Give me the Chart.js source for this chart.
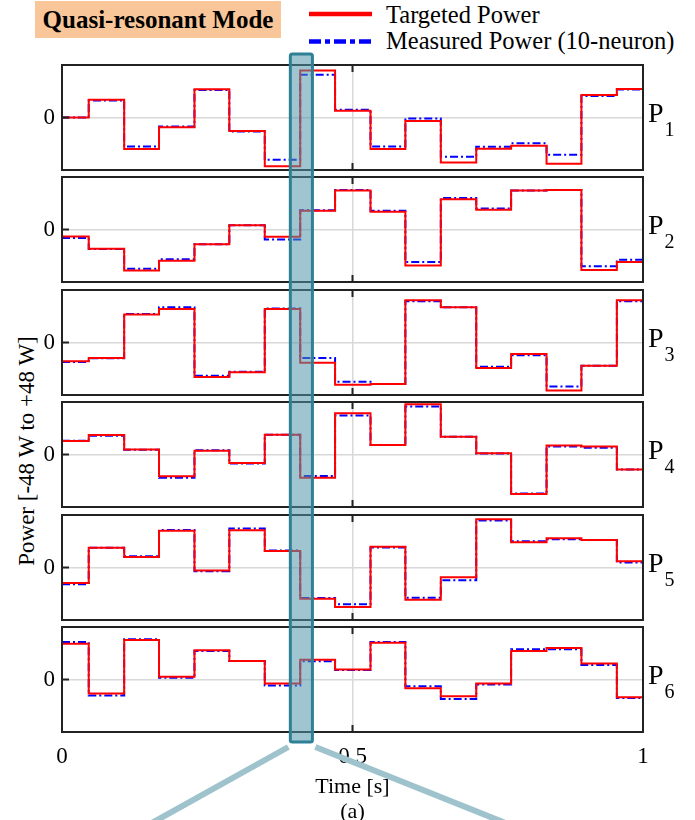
<!DOCTYPE html>
<html>
<head>
<meta charset="utf-8">
<script src="https://cdn.jsdelivr.net/npm/chart.js@4.4.0/dist/chart.umd.min.js"></script>
<style>
  body { margin: 0; width: 695px; height: 820px; position: relative; background: #fff; overflow: hidden;
         font-family: "Liberation Serif", "Times New Roman", serif; color: #000; }
  .panel { position: absolute; left: 0; }
  #overlay { position: absolute; left: 0; top: 0; pointer-events: none; z-index: 5; }
  #mode { position: absolute; left: 35px; top: 1px; width: 246px; height: 37px; background: #f8c698;
          font-family: "Liberation Serif", serif; font-weight: 700; font-size: 25px; line-height: 37px;
          text-align: center; }
  .legend-text { position: absolute; left: 386px; font-size: 24.5px; line-height: 26px; white-space: nowrap; }
  #ylabel { position: absolute; left: 27px; top: 451px; font-size: 23px; white-space: nowrap;
            transform: translate(-50%, -50%) rotate(-90deg); }
</style>
</head>
<body>
<div id="mode">Quasi-resonant Mode</div>
<div class="legend-text" style="top:2px">Targeted Power</div>
<div class="legend-text" style="top:28px">Measured Power (10-neuron)</div>
<div id="ylabel">Power [-48 W to +48 W]</div>

<canvas class="panel" id="p1"></canvas>
<canvas class="panel" id="p2"></canvas>
<canvas class="panel" id="p3"></canvas>
<canvas class="panel" id="p4"></canvas>
<canvas class="panel" id="p5"></canvas>
<canvas class="panel" id="p6"></canvas>
<canvas id="overlay" width="695" height="820"></canvas>

<script>
// start time of each power step [s]; the last entry closes the final step
const stepTimes = [0, 0.046, 0.107, 0.167, 0.228, 0.288, 0.349, 0.410, 0.470,
                   0.531, 0.591, 0.652, 0.713, 0.773, 0.834, 0.894, 0.955, 1.0];

// power per step [W]
const targetP1   = [0, 16.3, -28.8, -8.9, 25.8, -12.3, -44.5, 42.9, 6.1, -28.8, -3.1, -41.1, -28.5, -25.8, -42.3, 20.6, 26.1];
const measuredP1 = [0, 15.6, -26.4, -8.3, 25.2, -12.9, -38.7, 39.0, 7.1, -26.4, -0.9, -35.9, -26.7, -23.6, -34.0, 19.6, 25.5];
const targetP2   = [-6.4, -17.5, -37.4, -28.5, -13.5, 4.0, -6.7, 17.2, 35.6, 16.3, -32.8, 27.6, 18.1, 35.6, 36.2, -37.1, -29.8];
const measuredP2 = [-7.7, -17.8, -35.9, -27.3, -13.5, 4.0, -9.2, 17.5, 36.2, 17.2, -29.8, 28.8, 19.3, 35.6, 36.2, -33.7, -27.6];
const targetP3   = [-17.2, -14.1, 25.5, 30.7, -31.6, -27.3, 30.7, -18.4, -38.6, -38.0, 38.7, 32.2, -23.3, -10.4, -43.9, -21.2, 38.7];
const measuredP3 = [-17.8, -14.4, 26.1, 32.2, -30.4, -26.7, 31.0, -14.1, -35.9, -38.0, 37.7, 32.2, -22.1, -11.7, -40.2, -21.2, 37.7];
const targetP4   = [12.3, 17.8, 4.6, -19.9, 3.4, -7.7, 18.1, -21.2, 37.7, 8.6, 46.0, 16.3, 1.2, -36.2, 8.3, 7.4, -13.8];
const measuredP4 = [12.6, 17.2, 4.3, -21.2, 4.0, -8.3, 18.1, -19.6, 35.6, 8.6, 44.0, 16.3, 0.9, -35.6, 7.4, 6.1, -13.8];
const targetP5   = [-14.1, 18.1, 9.5, 33.7, -2.8, 34.0, 15.0, -28.5, -36.2, 19.0, -29.4, -8.9, 44.2, 23.0, 26.7, 25.2, 5.8];
const measuredP5 = [-15.3, 18.1, 10.4, 34.4, -3.4, 35.6, 15.6, -27.9, -33.7, 18.4, -27.6, -11.7, 42.9, 23.9, 25.8, 25.2, 4.6];
const targetP6   = [32.8, -12.9, 36.2, 2.5, 26.7, 16.9, -3.7, 18.1, 9.2, 33.7, -8.0, -15.3, -3.7, 26.1, 28.8, 14.7, -16.3];
const measuredP6 = [34.4, -14.7, 36.8, 1.5, 26.1, 16.9, -5.5, 16.6, 8.6, 34.4, -6.1, -17.8, -4.6, 27.6, 27.6, 13.2, -16.9];

const targets  = [targetP1, targetP2, targetP3, targetP4, targetP5, targetP6];
const measured = [measuredP1, measuredP2, measuredP3, measuredP4, measuredP5, measuredP6];

const powerRange = [-48, 48];
const timeTicks = [0, 0.5, 1];
const zoomWindow = [0.393, 0.431];   // highlighted interval [s]

// layout
const panelTops = [65, 177, 290, 402, 515, 627];
const plotHeight = 105;
const plotLeft = 62;
const plotRight = 643;
const padTop = 12;
const FONT = '"Liberation Serif", "Times New Roman", serif';
const GRID = '#d8d8d8';

function toSteps(values) {
  return stepTimes.map((t, i) => ({ x: t, y: values[Math.min(i, values.length - 1)] }));
}

// black box around each plot with inward tick marks
const frame = {
  id: 'frame',
  afterDatasetsDraw(chart) {
    const { ctx, chartArea: a } = chart;
    const xm = chart.scales.x.getPixelForValue(0.5);
    const y0 = chart.scales.y.getPixelForValue(0);
    ctx.save();
    ctx.strokeStyle = '#222';
    ctx.lineWidth = 2;
    ctx.strokeRect(a.left, a.top, a.width, a.height);
    ctx.beginPath();
    ctx.moveTo(xm, a.top); ctx.lineTo(xm, a.top + 7);
    ctx.moveTo(xm, a.bottom); ctx.lineTo(xm, a.bottom - 7);
    ctx.moveTo(a.left, y0); ctx.lineTo(a.left + 7, y0);
    ctx.stroke();
    ctx.restore();
  }
};

// P_n name to the right of each plot
const panelLabel = {
  id: 'panelLabel',
  afterDraw(chart, args, opts) {
    const { ctx, chartArea } = chart;
    const y0 = chart.scales.y.getPixelForValue(0);
    const x = chartArea.right + 5;
    ctx.save();
    ctx.fillStyle = '#000';
    ctx.textBaseline = 'alphabetic';
    ctx.font = '28px ' + FONT;
    ctx.fillText('P', x, y0 + 4);
    const w = ctx.measureText('P').width;
    ctx.font = '20px ' + FONT;
    ctx.fillText(opts.sub, x + w + 1, y0 + 18);
    ctx.restore();
  }
};

const charts = [];

for (let i = 0; i < 6; i++) {
  const last = i === 5;
  const canvas = document.getElementById('p' + (i + 1));
  const top = panelTops[i] - padTop;
  const height = last ? 820 - top : plotHeight + 2 * padTop;
  canvas.width = 695;
  canvas.height = height;
  canvas.style.top = top + 'px';

  charts.push(new Chart(canvas, {
    type: 'line',
    data: {
      datasets: [
        {
          label: 'Targeted Power',
          data: toSteps(targets[i]),
          borderColor: '#ff0000',
          borderWidth: 2,
          stepped: 'before',
          pointRadius: 0,
          fill: false
        },
        {
          label: 'Measured Power (10-neuron)',
          data: toSteps(measured[i]),
          borderColor: '#0000ff',
          borderWidth: 2,
          borderDash: [8, 3, 2, 3],
          stepped: 'before',
          pointRadius: 0,
          fill: false
        }
      ]
    },
    options: {
      responsive: false,
      animation: false,
      devicePixelRatio: 1,
      layout: { padding: { left: 0, right: 695 - plotRight, top: padTop, bottom: last ? 0 : padTop } },
      plugins: {
        legend: { display: false },
        tooltip: { enabled: false },
        panelLabel: { sub: String(i + 1) }
      },
      scales: {
        x: {
          type: 'linear',
          min: 0,
          max: 1,
          afterBuildTicks: s => { s.ticks = timeTicks.map(v => ({ value: v })); },
          afterFit: s => {
            s.height = last ? 820 - top - padTop - plotHeight : 0;
            s.paddingLeft = 0;
            s.paddingRight = 0;
          },
          border: { display: false },
          grid: {
            drawTicks: false,
            lineWidth: 1.5,
            color: c => (c.tick && c.tick.value === 0.5 ? GRID : 'rgba(0,0,0,0)')
          },
          ticks: {
            display: last,
            color: '#000',
            padding: 11,
            maxRotation: 0,
            font: { family: FONT, size: 23 },
            callback: v => String(v)
          },
          title: {
            display: last,
            text: ['Time [s]', '(a)'],
            color: '#000',
            padding: { top: 0, bottom: -4 },
            font: { family: FONT, size: 22, lineHeight: 1.1 }
          }
        },
        y: {
          min: powerRange[0],
          max: powerRange[1],
          afterBuildTicks: s => { s.ticks = [{ value: 0 }]; },
          afterFit: s => {
            s.width = plotLeft;
            s.paddingTop = 0;
            s.paddingBottom = 0;
          },
          border: { display: false },
          grid: { drawTicks: false, lineWidth: 1.5, color: GRID },
          ticks: {
            color: '#000',
            padding: 7,
            font: { family: FONT, size: 23 }
          }
        }
      }
    },
    plugins: [frame, panelLabel]
  }));
}

// legend samples and the highlighted time window
function drawOverlay() {
  const g = document.getElementById('overlay').getContext('2d');

  g.lineWidth = 4.5;
  g.strokeStyle = '#ff0000';
  g.beginPath(); g.moveTo(309, 14); g.lineTo(372, 14); g.stroke();
  g.strokeStyle = '#0000ff';
  g.setLineDash([12, 4, 5, 4]);
  g.beginPath(); g.moveTo(309, 41.5); g.lineTo(372, 41.5); g.stroke();
  g.setLineDash([]);

  const first = charts[0];
  const lastChart = charts[5];
  const xL = first.scales.x.getPixelForValue(zoomWindow[0]);
  const xR = first.scales.x.getPixelForValue(zoomWindow[1]);
  const yT = panelTops[0] + first.chartArea.top - padTop - 11;
  const yB = panelTops[5] + lastChart.chartArea.bottom - padTop + 10;

  // connector lines toward the zoomed view below
  g.strokeStyle = '#9ec3cd';
  g.lineWidth = 6;
  g.beginPath();
  g.moveTo(xL - 2, yB + 5); g.lineTo(150, 824);
  g.moveTo(xR + 3, yB + 5); g.lineTo(508, 824);
  g.stroke();

  g.fillStyle = 'rgba(78,150,170,0.55)';
  g.fillRect(xL, yT, xR - xL, yB - yT);
  g.strokeStyle = '#2d8096';
  g.lineWidth = 3;
  g.beginPath();
  g.roundRect(xL, yT, xR - xL, yB - yT, 2);
  g.stroke();
}

drawOverlay();
</script>
</body>
</html>
